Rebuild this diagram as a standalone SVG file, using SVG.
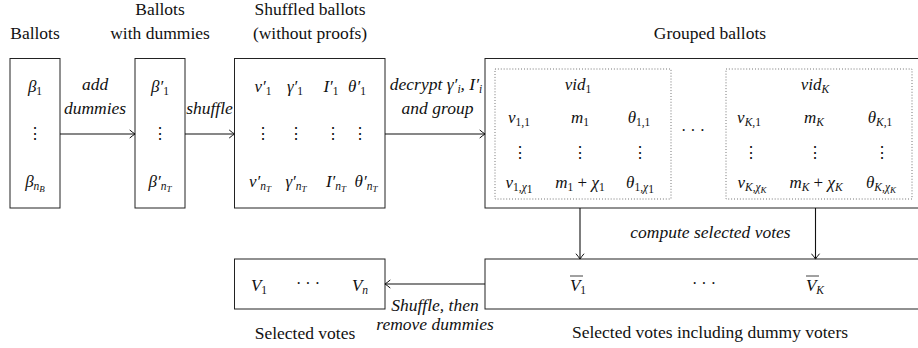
<svg xmlns="http://www.w3.org/2000/svg" width="918" height="348" viewBox="0 0 918 348" font-family="Liberation Serif">
  <defs>
    <marker id="tip" viewBox="-6 -5 8 10" markerWidth="8" markerHeight="10" refX="0" refY="0" orient="auto" markerUnits="userSpaceOnUse">
      <path d="M-4.5,-3.8 Q-1.2,-1 0.6,0 Q-1.2,1 -4.5,3.8" fill="none" stroke="#111" stroke-width="1" stroke-linecap="round"/>
    </marker>
  </defs>
  <style>
    .box { fill: #fff; stroke: #222; stroke-width: 1; }
    .grp { fill: none; stroke: #555; stroke-width: 0.9; stroke-dasharray: 0.9 2; }
    .edge { fill: none; stroke: #111; stroke-width: 1.1; marker-end: url(#tip); }
    .t { font-family: 'Liberation Serif'; font-size: 17.5px; fill: #111; }
    .m { font-family: 'Liberation Serif'; font-size: 17px; fill: #111; font-style: italic; }
    .dots { font-family: 'Liberation Serif'; font-size: 16px; fill: #111; }
    .s { font-size: 11.5px; font-style: normal; }
    .si { font-size: 11.5px; font-style: italic; }
    .ss { font-size: 9px; font-style: italic; }
  </style>

  <g id="ballots">
    <rect class="box" x="10" y="58.5" width="50" height="149.5"/>
    <text class="t" x="35" y="39" text-anchor="middle">Ballots</text>
    <text class="m" x="35" y="92" text-anchor="middle">β<tspan class="s" dy="3">1</tspan></text>
    <text class="dots" x="35" y="139" text-anchor="middle">⋮</text>
    <text class="m" x="35" y="187" text-anchor="middle">β<tspan class="si" dy="3">n</tspan><tspan class="ss" dy="2">B</tspan></text>
  </g>

  <g id="with-dummies">
    <rect class="box" x="135" y="58.5" width="50" height="149.5"/>
    <text class="t" x="160" y="15" text-anchor="middle">Ballots</text>
    <text class="t" x="160" y="39" text-anchor="middle">with dummies</text>
    <text class="m" x="160" y="92" text-anchor="middle">β′<tspan class="s" dy="3">1</tspan></text>
    <text class="dots" x="160" y="139" text-anchor="middle">⋮</text>
    <text class="m" x="160" y="187" text-anchor="middle">β′<tspan class="si" dy="3">n</tspan><tspan class="ss" dy="2">T</tspan></text>
  </g>

  <g id="shuffled">
    <rect class="box" x="234.5" y="58.5" width="150.5" height="149.5"/>
    <text class="t" x="310" y="15" text-anchor="middle">Shuffled ballots</text>
    <text class="t" x="310" y="39" text-anchor="middle">(without proofs)</text>
    <text class="m" x="263" y="92" text-anchor="middle">v′<tspan class="s" dy="3">1</tspan></text>
    <text class="m" x="295" y="92" text-anchor="middle">γ′<tspan class="s" dy="3">1</tspan></text>
    <text class="m" x="331" y="92" text-anchor="middle">I′<tspan class="s" dy="3">1</tspan></text>
    <text class="m" x="357" y="92" text-anchor="middle">θ′<tspan class="s" dy="3">1</tspan></text>
    <text class="dots" x="263" y="139" text-anchor="middle">⋮</text>
    <text class="dots" x="296" y="139" text-anchor="middle">⋮</text>
    <text class="dots" x="333" y="139" text-anchor="middle">⋮</text>
    <text class="dots" x="360" y="139" text-anchor="middle">⋮</text>
    <text class="m" x="260" y="187" text-anchor="middle">v′<tspan class="si" dy="3">n</tspan><tspan class="ss" dy="2">T</tspan></text>
    <text class="m" x="296" y="187" text-anchor="middle">γ′<tspan class="si" dy="3">n</tspan><tspan class="ss" dy="2">T</tspan></text>
    <text class="m" x="336" y="187" text-anchor="middle">I′<tspan class="si" dy="3">n</tspan><tspan class="ss" dy="2">T</tspan></text>
    <text class="m" x="366" y="187" text-anchor="middle">θ′<tspan class="si" dy="3">n</tspan><tspan class="ss" dy="2">T</tspan></text>
  </g>

  <g id="grouped">
    <rect class="box" x="485" y="58.5" width="445" height="149.5"/>
    <text class="t" x="710" y="39" text-anchor="middle">Grouped ballots</text>
    <rect class="grp" x="495" y="69" width="176" height="130"/>
    <rect class="grp" x="726" y="69" width="186" height="130"/>
    <text class="m" x="578" y="90" text-anchor="middle">vid<tspan class="s" dy="3">1</tspan></text>
    <text class="m" x="519" y="123" text-anchor="middle">v<tspan class="s" dy="3">1,1</tspan></text>
    <text class="m" x="580" y="123" text-anchor="middle">m<tspan class="s" dy="3">1</tspan></text>
    <text class="m" x="639" y="123" text-anchor="middle">θ<tspan class="s" dy="3">1,1</tspan></text>
    <text class="dots" x="520" y="158" text-anchor="middle">⋮</text>
    <text class="dots" x="580" y="158" text-anchor="middle">⋮</text>
    <text class="dots" x="640" y="158" text-anchor="middle">⋮</text>
    <text class="m" x="519" y="188" text-anchor="middle">v<tspan class="s" dy="3">1,</tspan><tspan class="si">χ</tspan><tspan class="s" dy="1.5">1</tspan></text>
    <text class="m" x="580" y="188" text-anchor="middle">m<tspan class="s" dy="3">1</tspan><tspan dy="-3" font-style="normal"> + </tspan>χ<tspan class="s" dy="3">1</tspan></text>
    <text class="m" x="640" y="188" text-anchor="middle">θ<tspan class="s" dy="3">1,</tspan><tspan class="si">χ</tspan><tspan class="s" dy="1.5">1</tspan></text>
    <text class="dots" x="693" y="136" text-anchor="middle">· · ·</text>
    <text class="m" x="815" y="90" text-anchor="middle">vid<tspan class="si" dy="3">K</tspan></text>
    <text class="m" x="749" y="123" text-anchor="middle">v<tspan class="si" dy="3">K</tspan><tspan class="s">,1</tspan></text>
    <text class="m" x="814" y="123" text-anchor="middle">m<tspan class="si" dy="3">K</tspan></text>
    <text class="m" x="880" y="123" text-anchor="middle">θ<tspan class="si" dy="3">K</tspan><tspan class="s">,1</tspan></text>
    <text class="dots" x="751" y="158" text-anchor="middle">⋮</text>
    <text class="dots" x="815" y="158" text-anchor="middle">⋮</text>
    <text class="dots" x="882" y="158" text-anchor="middle">⋮</text>
    <text class="m" x="752" y="188" text-anchor="middle">v<tspan class="si" dy="3">K</tspan><tspan class="s">,</tspan><tspan class="si">χ</tspan><tspan class="ss" dy="1.5">K</tspan></text>
    <text class="m" x="816" y="188" text-anchor="middle">m<tspan class="si" dy="3">K</tspan><tspan dy="-3" font-style="normal"> + </tspan>χ<tspan class="si" dy="3">K</tspan></text>
    <text class="m" x="881" y="188" text-anchor="middle">θ<tspan class="si" dy="3">K</tspan><tspan class="s">,</tspan><tspan class="si">χ</tspan><tspan class="ss" dy="1.5">K</tspan></text>
  </g>

  <g id="with-dummy-votes">
    <rect class="box" x="485" y="259" width="445" height="50"/>
    <text class="t" x="710" y="338" text-anchor="middle">Selected votes including dummy voters</text>
    <text class="m" x="578" y="291" text-anchor="middle">V<tspan class="s" dy="3">1</tspan></text>
    <line x1="570" y1="276" x2="583" y2="276" stroke="#111" stroke-width="0.8"/>
    <text class="dots" x="704" y="289" text-anchor="middle">· · ·</text>
    <text class="m" x="815" y="291" text-anchor="middle">V<tspan class="si" dy="3">K</tspan></text>
    <line x1="806" y1="276" x2="819" y2="276" stroke="#111" stroke-width="0.8"/>
  </g>

  <g id="selected">
    <rect class="box" x="234.5" y="259" width="150.5" height="50"/>
    <text class="t" x="305" y="339" text-anchor="middle">Selected votes</text>
    <text class="m" x="259" y="291" text-anchor="middle">V<tspan class="s" dy="3">1</tspan></text>
    <text class="dots" x="308" y="289" text-anchor="middle">· · ·</text>
    <text class="m" x="360" y="291" text-anchor="middle">V<tspan class="si" dy="3">n</tspan></text>
  </g>

  <g id="connectors">
    <line class="edge" x1="60" y1="134" x2="134.5" y2="134"/>
    <line class="edge" x1="185" y1="134" x2="234" y2="134"/>
    <line class="edge" x1="385" y1="134" x2="484.5" y2="134"/>
    <line class="edge" x1="580" y1="208" x2="580" y2="258.5"/>
    <line class="edge" x1="815.5" y1="208" x2="815.5" y2="258.5"/>
    <line class="edge" x1="485" y1="284" x2="385.5" y2="284"/>
    <text class="t" font-style="italic" x="95" y="90" text-anchor="middle">add</text>
    <text class="t" font-style="italic" x="95" y="114" text-anchor="middle">dummies</text>
    <text class="t" font-style="italic" x="209.5" y="114" text-anchor="middle">shuffle</text>
    <text class="t" font-style="italic" x="436" y="90" text-anchor="middle">decrypt γ′<tspan class="si" dy="3">i</tspan><tspan dy="-3">, I′</tspan><tspan class="si" dy="3">i</tspan></text>
    <text class="t" font-style="italic" x="437.5" y="114" text-anchor="middle">and group</text>
    <text class="t" font-style="italic" x="710.5" y="238" text-anchor="middle">compute selected votes</text>
    <text class="t" font-style="italic" font-size="16" x="435" y="311" text-anchor="middle">Shuffle, then</text>
    <text class="t" font-style="italic" font-size="16" x="435" y="330" text-anchor="middle">remove dummies</text>
  </g>
</svg>
